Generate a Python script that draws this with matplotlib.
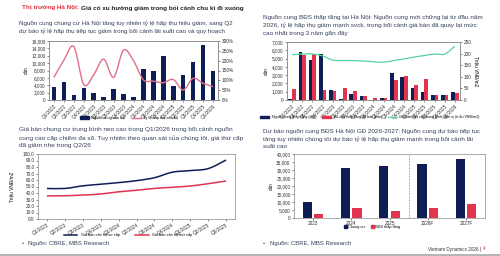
import matplotlib
matplotlib.use("Agg")
import matplotlib.pyplot as plt
from matplotlib.path import Path
from matplotlib.patches import PathPatch, Patch, Rectangle
from matplotlib.lines import Line2D
from matplotlib.ticker import FuncFormatter
import numpy as np

plt.rcParams['font.family'] = ['Liberation Sans', 'DejaVu Sans']

# ---------------- data ----------------
quarters = ['Q1/2022', 'Q2/2022', 'Q3/2022', 'Q4/2022', 'Q1/2023', 'Q2/2023', 'Q3/2023',
            'Q4/2023', 'Q1/2024', 'Q2/2024', 'Q3/2024', 'Q4/2024', 'Q1/2025', 'Q2/2025',
            'Q3/2025', 'Q4/2025', 'Q1/2026']
condo_supply = [3500, 4800, 1300, 3300, 2000, 700, 2900, 1600, 900, 8500, 8000, 12000,
                3900, 6800, 10300, 14800, 8000]
condo_absorption = [115, 203, 271, 78, 128, 208, 115, 254, 200, 102, 96, 88, 104, 51, 110, 85, 68]

lowrise_supply = [150, 5850, 4800, 5600, 1200, 100, 680, 430, 0, 200, 3250, 2750, 1500, 950,
                  560, 560, 960]
lowrise_sold = [1300, 5450, 5550, 1200, 1050, 1450, 1080, 480, 250, 300, 2450, 2850, 1800,
                2550, 560, 560, 880]
lowrise_price = [195, 198, 198, 190, 172, 170, 170, 168, 165, 163, 170, 177, 185, 192, 198, 198, 232]

price_quarters = ['Q1/2023', 'Q2/2023', 'Q3/2023', 'Q4/2023', 'Q1/2024', 'Q2/2024', 'Q3/2024',
                  'Q4/2024', 'Q1/2025', 'Q2/2025', 'Q3/2025']
price_primary = [47, 47, 51, 53.5, 56, 59, 63.5, 72, 74.5, 77.5, 90.7]
price_secondary = [35.5, 35.8, 36.8, 38.5, 41.8, 44.2, 47, 48.8, 50.8, 54.3, 58.5]

years = ['2023', '2024', '2025', '2026F', '2027F']
fc_condo = [10000, 31000, 32400, 33700, 36600]
fc_lowrise = [2500, 6000, 4200, 6500, 8600]

# ---------------- style ----------------
NAVY = '#0f1d55'
RED = '#e2344f'
PINK = '#e2708a'
GREEN = '#55d3a0'
TXT = '#34405a'
SPINE = '#8a8a8a'
TS = 3.4

W, H = 500, 256
fig = plt.figure(figsize=(5, 2.56), dpi=100)
fig.patch.set_facecolor('white')


def rect(x0, y0, x1, y1):
    return [x0 / W, 1 - y1 / H, (x1 - x0) / W, (y1 - y0) / H]


def ftxt(x, y, s, **kw):
    kw.setdefault('va', 'center')
    kw.setdefault('ha', 'left')
    return fig.text(x / W, 1 - y / H, s, **kw)


def smooth(ax, xs, ys, **kw):
    xs = np.asarray(xs, float)
    ys = np.asarray(ys, float)
    verts = [(xs[0], ys[0])]
    codes = [Path.MOVETO]
    n = len(xs)
    for i in range(n - 1):
        p0 = (xs[max(i - 1, 0)], ys[max(i - 1, 0)])
        p1 = (xs[i], ys[i])
        p2 = (xs[i + 1], ys[i + 1])
        p3 = (xs[min(i + 2, n - 1)], ys[min(i + 2, n - 1)])
        c1 = (p1[0] + (p2[0] - p0[0]) / 6, p1[1] + (p2[1] - p0[1]) / 6)
        c2 = (p2[0] - (p3[0] - p1[0]) / 6, p2[1] - (p3[1] - p1[1]) / 6)
        verts += [c1, c2, p2]
        codes += [Path.CURVE4] * 3
    ax.add_patch(PathPatch(Path(verts, codes), fill=False, **kw))


def style(ax):
    for s in ax.spines.values():
        s.set_color(SPINE)
        s.set_linewidth(0.5)
    ax.tick_params(labelsize=TS, length=1.5, width=0.4, pad=1, colors='#333333')


thou = FuncFormatter(lambda v, p: f'{int(v):,}')

# ---------------- header ----------------
t1 = ftxt(22, 8, 'Thị trường Hà Nội:', color='#e0303f', fontsize=4.6, fontweight='bold')
fig.canvas.draw()
bb = t1.get_window_extent(fig.canvas.get_renderer())
ftxt(bb.x1 + 2, 8, 'Giá có xu hướng giảm trong bối cảnh chu kì đi xuống', color='#222222',
     fontsize=4.6, fontweight='bold')

# ---------------- top-left ----------------
ftxt(19, 23, 'Nguồn cung chung cư Hà Nội tăng tuy nhiên tỷ lệ hấp thụ hiệu giảm, sang Q2',
     color=TXT, fontsize=4.5)
ftxt(19, 31, 'dự báo tỷ lệ hấp thụ tiếp tục giảm trong bối cảnh lãi suất cao và quy hoạch',
     color=TXT, fontsize=4.5)

ax1 = fig.add_axes(rect(49, 41, 218, 100))
x = np.arange(len(quarters))
ax1.bar(x, condo_supply, width=0.45, color=NAVY)
ax1.set_xlim(-0.5, len(quarters) - 0.5)
ax1.set_ylim(0, 16000)
ax1.set_yticks(range(0, 16001, 2000))
ax1.yaxis.set_major_formatter(thou)
ax1.set_xticks(x)
ax1.set_xticklabels(quarters, rotation=45, ha='right', rotation_mode='anchor')
ax1.set_ylabel('căn', fontsize=TS, labelpad=2)
style(ax1)
ax1b = ax1.twinx()
ax1b.set_ylim(0, 300)
ax1b.set_yticks(range(0, 301, 50))
ax1b.yaxis.set_major_formatter(FuncFormatter(lambda v, p: f'{int(v)}%'))
style(ax1b)
smooth(ax1b, x, condo_absorption, color=PINK, lw=1.0)

fig.legend(handles=[Patch(color=NAVY, label='Nguồn cung căn hộ'),
                    Line2D([], [], color=PINK, lw=1.0, label='Tỷ lệ hấp thụ căn hộ')],
           loc='center', bbox_to_anchor=(129 / W, 1 - 118 / H), ncol=2, frameon=False,
           fontsize=2.8, handlelength=2.2, handleheight=0.6, columnspacing=2.2, borderpad=0,
           handletextpad=0.4)

# ---------------- top-right ----------------
ftxt(263, 17, 'Nguồn cung BĐS thấp tầng tại Hà Nội: Nguồn cung mới chững lại từ đầu năm',
     color=TXT, fontsize=4.6)
ftxt(263, 25, '2026, tỷ lệ hấp thụ giảm mạnh svck, trong bối cảnh giá bán đã quay lại mức',
     color=TXT, fontsize=4.6)
ftxt(263, 33, 'cao nhất trong 3 năm gần đây', color=TXT, fontsize=4.6)

ax2 = fig.add_axes(rect(287, 42, 460, 100))
ax2.bar(x - 0.18, lowrise_supply, width=0.36, color=NAVY)
ax2.bar(x + 0.18, lowrise_sold, width=0.36, color=RED)
ax2.set_xlim(-0.5, len(quarters) - 0.5)
ax2.set_ylim(0, 7000)
ax2.set_yticks(range(0, 7001, 1000))
ax2.yaxis.set_major_formatter(thou)
ax2.set_xticks(x)
ax2.set_xticklabels(quarters, rotation=45, ha='right', rotation_mode='anchor')
ax2.set_ylabel('căn', fontsize=TS, labelpad=2)
style(ax2)
ax2b = ax2.twinx()
ax2b.set_ylim(0, 250)
ax2b.set_yticks(range(0, 251, 50))
ax2b.set_ylabel('Triệu VNĐ/m2', fontsize=TS, rotation=270, labelpad=5)
style(ax2b)
smooth(ax2b, x, lowrise_price, color=GREEN, lw=0.9)

fig.legend(handles=[Patch(color=NAVY, label='Nguồn cung thấp tầng (căn)'),
                    Patch(color=RED, label='Số căn thấp tầng đã bán (căn)'),
                    Line2D([], [], color=GREEN, lw=0.9,
                           label='Giá bán thứ cấp trung bình, đơn vị (triệu VNĐ/m2)')],
           loc='center', bbox_to_anchor=(370 / W, 1 - 117 / H), ncol=3, frameon=False,
           fontsize=2.6, handlelength=2.5, handleheight=0.6, columnspacing=1.5, borderpad=0)

# ---------------- bottom-left ----------------
ftxt(19, 130, 'Giá bán chung cư trung bình neo cao trong Q1/2026 trong bối cảnh nguồn',
     color=TXT, fontsize=4.65)
ftxt(19, 138, 'cung cao cấp chiếm đa số. Tuy nhiên theo quan sát của chúng tôi, giá thứ cấp',
     color=TXT, fontsize=4.65)
ftxt(19, 146, 'đã giảm nhẹ trong Q2/26', color=TXT, fontsize=4.65)

ax3 = fig.add_axes(rect(38, 154, 235, 219))
xp = np.arange(len(price_quarters))
ax3.set_xlim(-0.5, len(price_quarters) - 0.5)
ax3.set_ylim(0, 100)
ax3.set_yticks(range(0, 101, 10))
ax3.yaxis.set_major_formatter(FuncFormatter(lambda v, p: f'{v:.1f}'))
ax3.set_xticks(xp)
ax3.set_xticklabels(price_quarters, rotation=30, ha='right', rotation_mode='anchor')
ax3.set_ylabel('Triệu VNĐ/m2', fontsize=TS, labelpad=6)
style(ax3)
smooth(ax3, xp, price_primary, color=NAVY, lw=1.1)
smooth(ax3, xp, price_secondary, color=RED, lw=1.1)

fig.legend(handles=[Line2D([], [], color=NAVY, lw=1.1, label='Giá bán căn hộ sơ cấp'),
                    Line2D([], [], color=RED, lw=1.1, label='Giá bán căn hộ thứ cấp')],
           loc='center', bbox_to_anchor=(128 / W, 1 - 235 / H), ncol=2, frameon=False,
           fontsize=2.8, handlelength=3.5, columnspacing=4, borderpad=0)

ftxt(22, 243, '•', color=TXT, fontsize=4)
ftxt(28, 243, 'Nguồn: CBRE, MBS Research', color=TXT, fontsize=4.3)

# ---------------- bottom-right ----------------
ftxt(263, 131, 'Dự báo nguồn cung BĐS Hà Nội GĐ 2026-2027: Nguồn cung dự báo tiếp tục',
     color=TXT, fontsize=4.6)
ftxt(263, 139, 'tăng tuy nhiên chúng tôi dự báo tỷ lệ hấp thụ giảm mạnh trong bối cảnh lãi',
     color=TXT, fontsize=4.6)
ftxt(263, 147, 'suất cao', color=TXT, fontsize=4.6)

ax4 = fig.add_axes(rect(294, 154, 485, 218))
xy = np.arange(len(years))
ax4.bar(xy - 0.15, fc_condo, width=0.24, color=NAVY)
ax4.bar(xy + 0.15, fc_lowrise, width=0.24, color=RED)
ax4.set_xlim(-0.5, len(years) - 0.5)
ax4.set_ylim(0, 40000)
ax4.set_yticks(range(0, 40001, 5000))
ax4.yaxis.set_major_formatter(thou)
ax4.set_xticks(xy)
ax4.set_xticklabels(years)
ax4.set_ylabel('căn', fontsize=TS, labelpad=2)
ax4.axvline(2.5, color='#999999', lw=0.6, ls=(0, (2, 1.5)))
style(ax4)

fig.legend(handles=[Patch(color=NAVY, label='Chung cư'),
                    Patch(color=RED, label='BĐS thấp tầng')],
           loc='center', bbox_to_anchor=(372 / W, 1 - 227 / H), ncol=2, frameon=False,
           fontsize=2.8, handlelength=0.8, handleheight=0.8, columnspacing=1.5,
           handletextpad=0.3, borderpad=0)

ftxt(263, 243, '•', color=TXT, fontsize=4)
ftxt(270, 243, 'Nguồn: CBRE, MBS Research', color=TXT, fontsize=4.3)

ftxt(481, 249, 'Vietnam Dynamics 2026 |', color='#333333', fontsize=3.3, ha='right')
ftxt(483, 249, '4', color='#e0303f', fontsize=3.3)

fig.add_artist(Rectangle((0, 0), 1, 2.5 / H, transform=fig.transFigure,
                         color='#b5b5b5', lw=0))

fig.savefig('out.png', dpi=100)
